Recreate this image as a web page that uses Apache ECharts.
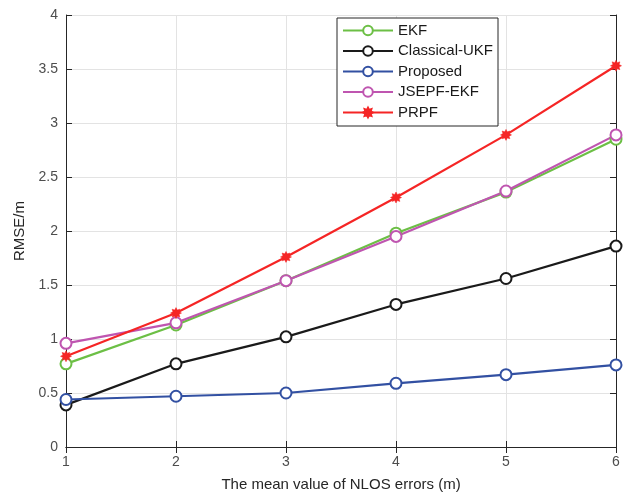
<!DOCTYPE html>
<html>
<head>
<meta charset="utf-8">
<script src="https://cdn.jsdelivr.net/npm/echarts@6/dist/echarts.min.js"></script>
<style>
html,body{margin:0;padding:0;background:#fff;}
#chart{width:623px;height:502px;}
</style>
</head>
<body>
<div id="chart"></div>
<script>
// Mean NLOS error (m) on the x axis
const nlosMean = [1, 2, 3, 4, 5, 6];

// RMSE (m) for each estimator
const ekf        = [0.77, 1.13, 1.54, 1.98, 2.36, 2.85];
const classicUkf = [0.39, 0.77, 1.02, 1.32, 1.56, 1.86];
const proposed   = [0.44, 0.47, 0.50, 0.59, 0.67, 0.76];
const jsepfEkf   = [0.96, 1.15, 1.54, 1.95, 2.37, 2.89];
const prpf       = [0.84, 1.24, 1.76, 2.31, 2.89, 3.53];

const seriesNames = ['EKF', 'Classical-UKF', 'Proposed', 'JSEPF-EKF', 'PRPF'];
const seriesColors = ['#6cbf45', '#1a1a1a', '#3250a2', '#bf55b0', '#f52525'];

// Eight-point asterisk used for the PRPF markers
function starPath(points, rOut, rIn) {
  let d = '';
  for (let i = 0; i < points * 2; i++) {
    const r = i % 2 === 0 ? rOut : rIn;
    const a = Math.PI * i / points - Math.PI / 2;
    d += (i === 0 ? 'M' : 'L') + (r * Math.cos(a)).toFixed(3) + ' ' + (r * Math.sin(a)).toFixed(3);
  }
  return 'path://' + d + 'Z';
}
const asterisk = starPath(8, 10, 6);

const fontFam = '"Liberation Sans", Arial, Helvetica, sans-serif';

function pairs(ys) { return nlosMean.map((x, i) => [x, ys[i]]); }

function lineSeries(name, ys, color, symbol) {
  const isStar = symbol !== 'emptyCircle';
  return {
    name: name,
    type: 'line',
    data: pairs(ys),
    symbol: symbol,
    symbolSize: 11,
    showAllSymbol: true,
    lineStyle: { color: color, width: 2.2 },
    itemStyle: { color: color, borderColor: color, borderWidth: isStar ? 0.5 : 2.2 },
    emphasis: { disabled: true },
    z: 3
  };
}

const allValues = [ekf, classicUkf, proposed, jsepfEkf, prpf];
const series = seriesNames.map((n, i) =>
  lineSeries(n, allValues[i], seriesColors[i], n === 'PRPF' ? asterisk : 'emptyCircle'));

const chart = echarts.init(document.getElementById('chart'), null, { renderer: 'canvas' });

const axisLineStyle = { lineStyle: { color: '#262626', width: 1 } };
const tickInside = { inside: true, length: 6, lineStyle: { color: '#262626' } };

chart.setOption({
  animation: false,
  backgroundColor: '#fff',
  grid: { left: 66, right: 7, top: 15, bottom: 55, containLabel: false },
  legend: {
    data: seriesNames,
    orient: 'vertical',
    left: 337,
    top: 18,
    itemWidth: 50,
    itemHeight: 12,
    itemGap: 5.5,
    padding: [5, 5, 6, 5],
    borderColor: '#262626',
    borderWidth: 1,
    backgroundColor: '#fff',
    textStyle: { fontFamily: fontFam, fontSize: 15, color: '#1a1a1a' },
    selectedMode: false
  },
  xAxis: [{
    type: 'value', min: 1, max: 6, interval: 1,
    name: 'The mean value of NLOS errors (m)',
    nameLocation: 'middle', nameGap: 30,
    nameTextStyle: { fontFamily: fontFam, fontSize: 15, color: '#262626' },
    axisLine: axisLineStyle, axisTick: tickInside,
    axisLabel: { fontFamily: fontFam, fontSize: 14, color: '#4d4d4d', margin: 8 },
    splitLine: { show: true, lineStyle: { color: '#e3e3e3', width: 1 } }
  }, {
    type: 'value', min: 1, max: 6, interval: 1, position: 'top',
    axisLine: axisLineStyle, axisTick: tickInside,
    axisLabel: { show: false }, splitLine: { show: false }
  }],
  yAxis: [{
    type: 'value', min: 0, max: 4, interval: 0.5,
    name: 'RMSE/m',
    nameLocation: 'middle', nameGap: 35, nameRotate: 90,
    nameTextStyle: { fontFamily: fontFam, fontSize: 15, color: '#262626' },
    axisLine: axisLineStyle, axisTick: tickInside,
    axisLabel: { fontFamily: fontFam, fontSize: 14, color: '#4d4d4d', margin: 8 },
    splitLine: { show: true, lineStyle: { color: '#e3e3e3', width: 1 } }
  }, {
    type: 'value', min: 0, max: 4, interval: 0.5, position: 'right',
    axisLine: axisLineStyle, axisTick: tickInside,
    axisLabel: { show: false }, splitLine: { show: false }
  }],
  series: series
});
</script>
</body>
</html>
